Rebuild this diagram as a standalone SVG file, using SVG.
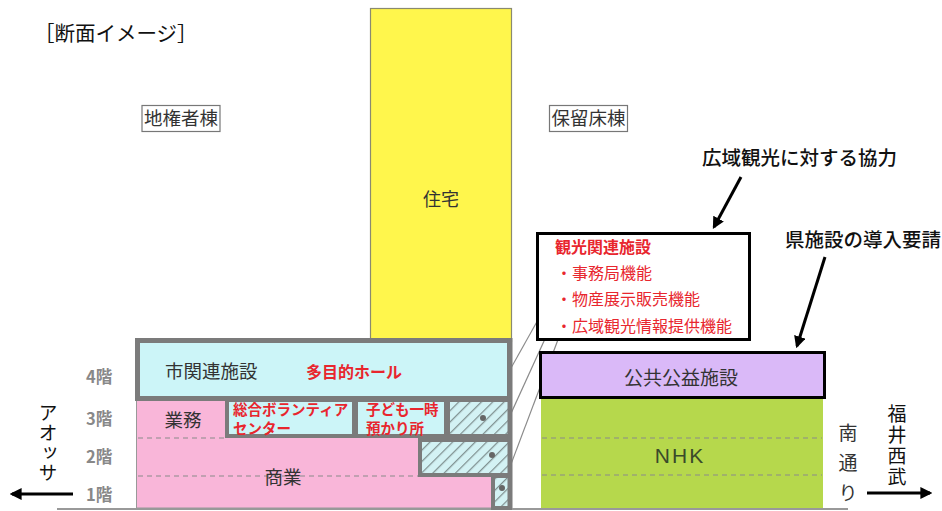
<svg xmlns="http://www.w3.org/2000/svg" width="942" height="511" viewBox="0 0 942 511">
<style>
text{font-family:"Noto Sans CJK JP","Noto Sans",sans-serif;}
.dk{fill:#333;}
.red{fill:#e8262e;font-weight:bold;}
.fl{fill:#888;font-weight:bold;font-size:16.5px;}
.blk{fill:#111;}
.vt{writing-mode:vertical-rl;font-size:19px;}
.gb{stroke:#7b7b7b;stroke-width:5;}
.gb4{stroke:#7b7b7b;stroke-width:4;}
.dash{stroke:#8a8a8a;stroke-width:1.2;stroke-dasharray:5 4;fill:none;}
.lead{stroke:#8a8a8a;stroke-width:1.2;fill:none;}
.arr{stroke:#000;stroke-width:3;fill:none;marker-end:url(#ah);}
</style>
<defs>
<pattern id="hatch" width="8" height="8" patternUnits="userSpaceOnUse" patternTransform="rotate(45)">
<rect width="8" height="8" fill="#d3f2f4"/>
<line x1="0" y1="0" x2="0" y2="8" stroke="#7f9090" stroke-width="2.5"/>
</pattern>
<marker id="ah" viewBox="0 0 10 10" refX="8" refY="5" markerWidth="4" markerHeight="4" orient="auto" markerUnits="strokeWidth">
<path d="M0,0 L10,5 L0,10 z" fill="#000"/>
</marker>
</defs>
<rect width="942" height="511" fill="#fff"/>

<g id="title"><text x="34" y="41" font-size="20.5" class="blk">［断面イメージ］</text></g>

<g id="label-chikensha">
<rect x="142" y="105.5" width="78" height="26" fill="none" stroke="#777" stroke-width="1.2"/>
<text x="181" y="125" font-size="18.5" text-anchor="middle" class="dk">地権者棟</text>
</g>
<g id="label-horyu">
<rect x="549.5" y="105.5" width="78" height="26" fill="none" stroke="#777" stroke-width="1.2"/>
<text x="588.5" y="125" font-size="18.5" text-anchor="middle" class="dk">保留床棟</text>
</g>

<g id="jutaku">
<rect x="370.5" y="8.5" width="141" height="333" fill="#fff64c" stroke="#8a8a70" stroke-width="1.2"/>
<text x="441" y="206" font-size="18" text-anchor="middle" class="dk">住宅</text>
</g>

<g id="connectors">
<line class="lead" x1="562" y1="277" x2="483" y2="418"/>
<line class="lead" x1="560" y1="306" x2="492" y2="455"/>
<line class="lead" x1="559" y1="337" x2="502" y2="488"/>
<line class="arr" x1="741" y1="177" x2="714" y2="227"/>
<line class="arr" x1="825" y1="257" x2="797" y2="346"/>
<line class="arr" x1="73" y1="494" x2="12" y2="494"/>
<line class="arr" x1="867" y1="493" x2="930" y2="493"/>
</g>

<g id="ground"><line x1="57" y1="509" x2="848" y2="509" stroke="#999" stroke-width="2"/></g>

<g id="shogyo">
<rect x="136.5" y="398" width="374" height="110" fill="#f9b6d9" stroke="#999" stroke-width="1"/>
<line class="dash" x1="138" y1="438" x2="225" y2="438"/>
<line class="dash" x1="138" y1="476" x2="418" y2="476"/>
<text x="183" y="427" font-size="18.5" text-anchor="middle" class="dk">業務</text>
<text x="283" y="484" font-size="18.5" text-anchor="middle" class="dk">商業</text>
</g>

<g id="shi-kanren">
<rect x="137.5" y="340.5" width="372" height="58" fill="#ccf5f8" class="gb"/>
<text x="165" y="378" font-size="18.5" class="dk">市関連施設</text>
<text x="306" y="378" font-size="16" class="red">多目的ホール</text>
</g>

<g id="volunteer">
<rect x="227" y="400" width="127" height="36" fill="#ccf5f8" class="gb4"/>
<text x="233" y="415" font-size="14.5" class="red">総合ボランティア</text>
<text x="233" y="434" font-size="14.5" class="red">センター</text>
</g>

<g id="kodomo">
<rect x="356" y="400" width="90" height="36" fill="#ccf5f8" class="gb4"/>
<text x="366" y="415" font-size="14.5" class="red">子ども一時</text>
<text x="366" y="434" font-size="14.5" class="red">預かり所</text>
</g>

<g id="hatch-3f">
<rect x="448" y="400" width="62" height="36" fill="url(#hatch)" class="gb4"/>
<circle cx="483" cy="418" r="3" fill="#666"/>
</g>
<g id="hatch-2f">
<rect x="420" y="440" width="90" height="35" fill="url(#hatch)" class="gb4"/>
<circle cx="492" cy="455" r="3" fill="#666"/>
</g>
<g id="hatch-1f">
<rect x="493" y="476" width="17" height="32" fill="url(#hatch)" class="gb4"/>
<circle cx="502" cy="488" r="3" fill="#666"/>
</g>
<line x1="510" y1="338" x2="510" y2="508" class="gb"/>

<g id="floors">
<text x="86" y="383" class="fl">4階</text>
<text x="86" y="425" class="fl">3階</text>
<text x="86" y="463" class="fl">2階</text>
<text x="86" y="501" class="fl">1階</text>
</g>

<g id="kanko">
<rect x="537.5" y="233.5" width="212" height="106" fill="#fff" stroke="#000" stroke-width="3"/>
<text x="555" y="253" font-size="16" class="red">観光関連施設</text>
<text x="556" y="279" font-size="16" fill="#e8262e">・事務局機能</text>
<text x="556" y="305" font-size="16" fill="#e8262e">・物産展示販売機能</text>
<text x="556" y="332" font-size="16" fill="#e8262e">・広域観光情報提供機能</text>
</g>

<g id="nhk">
<rect x="541" y="397" width="282" height="111" fill="#b6d84c"/>
<line class="dash" x1="542" y1="438" x2="822" y2="438"/>
<line class="dash" x1="542" y1="475" x2="822" y2="475"/>
<text x="680" y="463" font-size="21" letter-spacing="2" text-anchor="middle" fill="#3a4a2a" style="font-family:'Liberation Sans',sans-serif">NHK</text>
</g>

<g id="kokyo">
<rect x="540.5" y="352.5" width="284" height="45" fill="#dab9f8" stroke="#000" stroke-width="3"/>
<text x="681" y="385" font-size="19" text-anchor="middle" class="dk">公共公益施設</text>
</g>

<g id="note-kanko"><text x="702" y="165" font-size="19.5" font-weight="500" class="blk">広域観光に対する協力</text></g>
<g id="note-ken"><text x="785" y="247" font-size="19.5" font-weight="500" class="blk">県施設の導入要請</text></g>

<g id="aossa"><text x="48" y="403" class="vt blk" letter-spacing="1">アオッサ</text></g>
<g id="minami">
<text x="848" y="440" font-size="19" fill="#333" text-anchor="middle">南</text>
<text x="848" y="470" font-size="19" fill="#333" text-anchor="middle">通</text>
<text x="848" y="500" font-size="19" fill="#333" text-anchor="middle">り</text>
</g>
<g id="seibu"><text x="897" y="404" class="vt blk" letter-spacing="2">福井西武</text></g>
</svg>
